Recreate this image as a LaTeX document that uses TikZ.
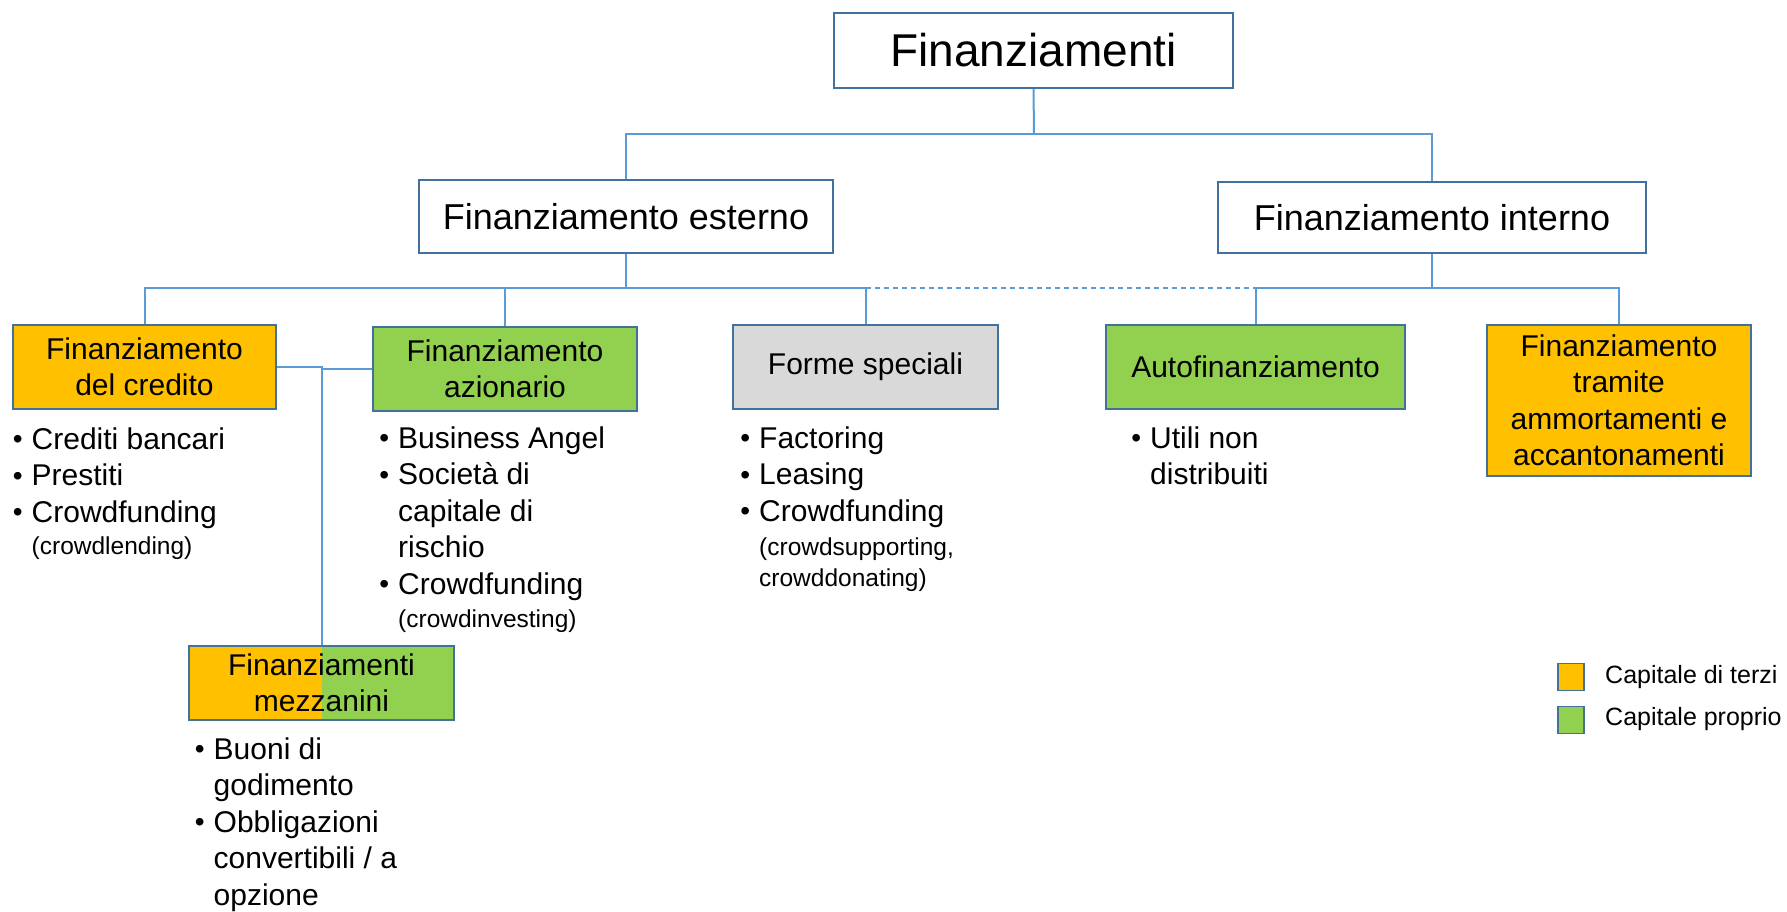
\documentclass[tikz,border=0pt]{standalone}
\usepackage{fontspec}
\setmainfont{Liberation Sans}
\definecolor{bord}{HTML}{41719C}
\definecolor{conncol}{HTML}{5B9BD5}
\definecolor{orng}{HTML}{FFC000}
\definecolor{grn}{HTML}{92D050}
\definecolor{gry}{HTML}{D9D9D9}
\newcommand{\bu}{\llap{\raisebox{0.5pt}{\fontsize{28}{28}\selectfont\textbullet}\hspace{9pt}}}
\newcommand{\sml}{\fontsize{24.5}{29}\selectfont}
\begin{document}
\begin{tikzpicture}[x=1pt,y=-1pt,
  box/.style={draw=bord, line width=1.6pt, inner sep=0pt, align=center},
  lvthree/.style={box, minimum width=264pt, minimum height=84pt, font=\fontsize{30}{36.5}\selectfont},
  conn/.style={draw=conncol, line width=2pt},
  lst/.style={anchor=base west, inner sep=0pt, font=\fontsize{30}{36.5}\selectfont},
  leg/.style={draw=bord, line width=1.4pt, minimum width=26pt, minimum height=27pt, inner sep=0pt},
  legtxt/.style={anchor=west, inner sep=0pt, font=\fontsize{25}{30}\selectfont}]
\useasboundingbox (0,0) rectangle (1787,912);
\fill[white] (0,0) rectangle (1787,912);

% boxes
\node[box, minimum width=399pt, minimum height=75pt, font=\fontsize{46}{55}\selectfont] (top) at (1033.5,50.5) {Finanziamenti};
\node[box, minimum width=414pt, minimum height=73pt, font=\fontsize{36}{43}\selectfont] (est) at (626,216.5) {Finanziamento esterno};
\node[box, minimum width=428pt, minimum height=71pt, font=\fontsize{36}{43}\selectfont] (int) at (1432,217.5) {Finanziamento interno};

\node[lvthree, fill=orng, minimum width=263pt] (cred) at (144.5,367) {Finanziamento\\del credito};
\node[lvthree, fill=grn] (azi) at (505,369) {Finanziamento\\azionario};
\node[lvthree, fill=gry, minimum width=265pt] (forme) at (865.5,367) {Forme speciali};
\node[lvthree, fill=grn, minimum width=299pt] (auto) at (1255.5,367) {Autofinanziamento};
\node[lvthree, fill=orng, minimum height=151pt] (tram) at (1619,400.5) {Finanziamento\\tramite\\ammortamenti e\\accantonamenti};
\node[lvthree, minimum width=265pt, minimum height=74pt,
  path picture={\fill[orng] (path picture bounding box.south west) rectangle (path picture bounding box.north);
                \fill[grn] (path picture bounding box.north) rectangle (path picture bounding box.south east);}]
  (mezz) at (321.5,683) {Finanziamenti\\mezzanini};

% connectors
\coordinate (j1) at (1034,134);
\draw[conn] (top.south) -- (j1);
\draw[conn] (est.north) |- (j1);
\draw[conn] (int.north) |- (j1);

\coordinate (e2) at (626,288);
\coordinate (i2) at (1432,288);
\draw[conn] (est.south) -- (e2);
\draw[conn] (cred.north) |- (e2);
\draw[conn] (forme.north) |- (e2);
\draw[conn] (azi.north) -- (azi.north |- e2);
\draw[conn] (int.south) -- (i2);
\draw[conn] (auto.north) |- (i2);
\draw[conn] (tram.north) |- (i2);
\draw[conn, dashed, dash pattern=on 5pt off 4pt] (forme.north |- e2) -- (auto.north |- i2);
\draw[conn] (cred.east) -| (mezz.north);
\draw[conn] (azi.west) -- (azi.west -| mezz.north);

% lists
\node[lst] (lcred) at (31.5,449) {\begin{tabular}[t]{@{}l@{}}
\bu Crediti bancari\\
\bu Prestiti\\
\bu Crowdfunding\\[-4pt]
{\sml(crowdlending)}
\end{tabular}};
\node[lst] (lazi) at (398,448) {\begin{tabular}[t]{@{}l@{}}
\bu Business Angel\\
\bu Società di\\
capitale di\\
rischio\\
\bu Crowdfunding\\[-3.5pt]
{\sml(crowdinvesting)}
\end{tabular}};
\node[lst] (lforme) at (759,448) {\begin{tabular}[t]{@{}l@{}}
\bu Factoring\\
\bu Leasing\\
\bu Crowdfunding\\[-2.5pt]
{\sml(crowdsupporting,}\\[-5.5pt]
{\sml crowddonating)}
\end{tabular}};
\node[lst] (lauto) at (1150,448) {\begin{tabular}[t]{@{}l@{}}
\bu Utili non\\
distribuiti
\end{tabular}};
\node[lst] (lmezz) at (213.5,759) {\begin{tabular}[t]{@{}l@{}}
\bu Buoni di\\
godimento\\
\bu Obbligazioni\\
convertibili / a\\
opzione
\end{tabular}};

% legend
\node[leg, fill=orng] (lg1) at (1571,677) {};
\node[leg, fill=grn] (lg2) at (1571,720) {};
\node[legtxt] (lt1) at (1605,677) {Capitale di terzi};
\node[legtxt] (lt2) at (1605,719) {Capitale proprio};
\end{tikzpicture}
\end{document}
